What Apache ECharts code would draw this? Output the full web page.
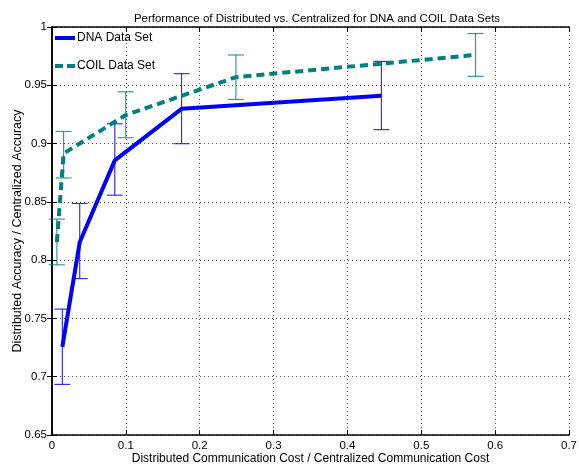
<!DOCTYPE html>
<html><head><meta charset="utf-8">
<script src="https://cdn.jsdelivr.net/npm/echarts@6/dist/echarts.min.js"></script>
<style>html,body{margin:0;padding:0;background:#fff}#c{width:579px;height:465px}</style>
</head><body><div id="c"></div>
<script>
const dnaX = [0.014, 0.0375, 0.085, 0.1754, 0.446];
const dnaY = [0.7256, 0.8153, 0.8856, 0.9298, 0.941];
const dnaLow = [0.6934, 0.7842, 0.8557, 0.8999, 0.912];
const dnaHigh = [0.758, 0.8486, 0.917, 0.96, 0.9705];
const coilX = [0.0066, 0.0157, 0.0999, 0.249, 0.5734];
const coilY = [0.8155, 0.8915, 0.9245, 0.957, 0.976];
const coilLow = [0.796, 0.8705, 0.905, 0.9378, 0.9577];
const coilHigh = [0.8352, 0.9104, 0.9444, 0.976, 0.9944];
const xTicks = ['0','0.1','0.2','0.3','0.4','0.5','0.6','0.7'];
const yTicks = {0.65:'0.65',0.7:'0.7',0.75:'0.75',0.8:'0.8',0.85:'0.85',0.9:'0.9',0.95:'0.95',1:'1'};
const legendNames = ['DNA Data Set', 'COIL Data Set'];

const FONT = 'Liberation Sans';
const BLUE = '#0000ff', TEAL = '#008080';

function pts(xs, ys){ return xs.map((x,i)=>[x, ys[i]]); }
function errData(xs, lo, hi){ return xs.map((x,i)=>[x, lo[i], hi[i]]); }
function errSeries(name, data, color){
  return {
    type:'custom', name: name, data: data, z: 3, silent: true,
    renderItem: function(params, api){
      const x = api.value(0);
      const p1 = api.coord([x, api.value(1)]);
      const p2 = api.coord([x, api.value(2)]);
      const w = 8;
      const st = {stroke: color, lineWidth: 1.2, opacity: 0.8};
      return {type:'group', children:[
        {type:'line', shape:{x1:p1[0], y1:p1[1], x2:p2[0], y2:p2[1]}, style: st},
        {type:'line', shape:{x1:p1[0]-w, y1:p1[1], x2:p1[0]+w, y2:p1[1]}, style: st},
        {type:'line', shape:{x1:p2[0]-w, y1:p2[1], x2:p2[0]+w, y2:p2[1]}, style: st}
      ]};
    },
    encode: {x: 0, y: [1, 2]}
  };
}

const chart = echarts.init(document.getElementById('c'));
const axisLine = {show:true, lineStyle:{color:'#000', width:1.5}};
const gridLine = {show:true, lineStyle:{color:'#555', type:[1,3], width:1}};
chart.setOption({
  animation:false,
  backgroundColor:'#fff',
  textStyle:{fontFamily: FONT},
  title:{text:'Performance of Distributed vs. Centralized for DNA and COIL Data Sets',
    left: 312, top: 8, textAlign:'center',
    textStyle:{fontSize:11.5, fontWeight:'normal', color:'#000', fontFamily: FONT}},
  graphic:[
    {type:'line', shape:{x1:55, y1:38, x2:75, y2:38}, style:{stroke:BLUE, lineWidth:4}, z:10},
    {type:'text', x:77, y:38, style:{text:legendNames[0], fill:'#000', font:'12px "Liberation Sans"', textVerticalAlign:'middle'}, z:10},
    {type:'line', shape:{x1:55, y1:66, x2:75, y2:66}, style:{stroke:TEAL, lineWidth:4, lineDash:[8,4]}, z:10},
    {type:'text', x:77, y:66, style:{text:legendNames[1], fill:'#000', font:'12px "Liberation Sans"', textVerticalAlign:'middle'}, z:10}
  ],
  grid:{left:52, right:10, top:27, bottom:30, containLabel:false, outerBoundsMode:'none'},
  xAxis:[{
    type:'value', min:0, max:0.7, interval:0.1, position:'bottom',
    axisLine: axisLine, axisTick:{show:true, inside:true, length:5, lineStyle:{color:'#000'}},
    axisLabel:{fontSize:11.5, color:'#000', margin:5, formatter:(v)=>xTicks[Math.round(v*10)]},
    splitLine: gridLine,
    name:'Distributed Communication Cost / Centralized Communication Cost',
    nameLocation:'middle', nameGap:18, nameMoveOverlap:false,
    nameTextStyle:{fontSize:12, color:'#000'}
  },{
    type:'value', min:0, max:0.7, interval:0.1, position:'top',
    axisLine: axisLine, axisTick:{show:true, inside:true, length:5, lineStyle:{color:'#000'}},
    axisLabel:{show:false}, splitLine:{show:false}
  }],
  yAxis:[{
    type:'value', min:0.65, max:1, interval:0.05, position:'left',
    axisLine: axisLine, axisTick:{show:true, inside:true, length:5, lineStyle:{color:'#000'}},
    axisLabel:{fontSize:11.5, color:'#000', margin:5, formatter:(v)=>yTicks[Math.round(v*100)/100]},
    splitLine: gridLine,
    name:'Distributed Accuracy / Centralized Accuracy',
    nameLocation:'middle', nameGap:28, nameMoveOverlap:false,
    nameTextStyle:{fontSize:12.5, color:'#000'}
  },{
    type:'value', min:0.65, max:1, interval:0.05, position:'right',
    axisLine: axisLine, axisTick:{show:true, inside:true, length:5, lineStyle:{color:'#000'}},
    axisLabel:{show:false}, splitLine:{show:false}
  }],
  series:[
    {name:'DNA Data Set', type:'line', data: pts(dnaX, dnaY), symbol:'none', z:4,
     lineStyle:{color:BLUE, width:4}, itemStyle:{color:BLUE}},
    {name:'COIL Data Set', type:'line', data: pts(coilX, coilY), symbol:'none', z:4,
     lineStyle:{color:TEAL, width:4, type:[8,5]}, itemStyle:{color:TEAL}},
    errSeries('DNA err', errData(dnaX, dnaLow, dnaHigh), BLUE),
    errSeries('COIL err', errData(coilX, coilLow, coilHigh), TEAL)
  ]
});
</script></body></html>
